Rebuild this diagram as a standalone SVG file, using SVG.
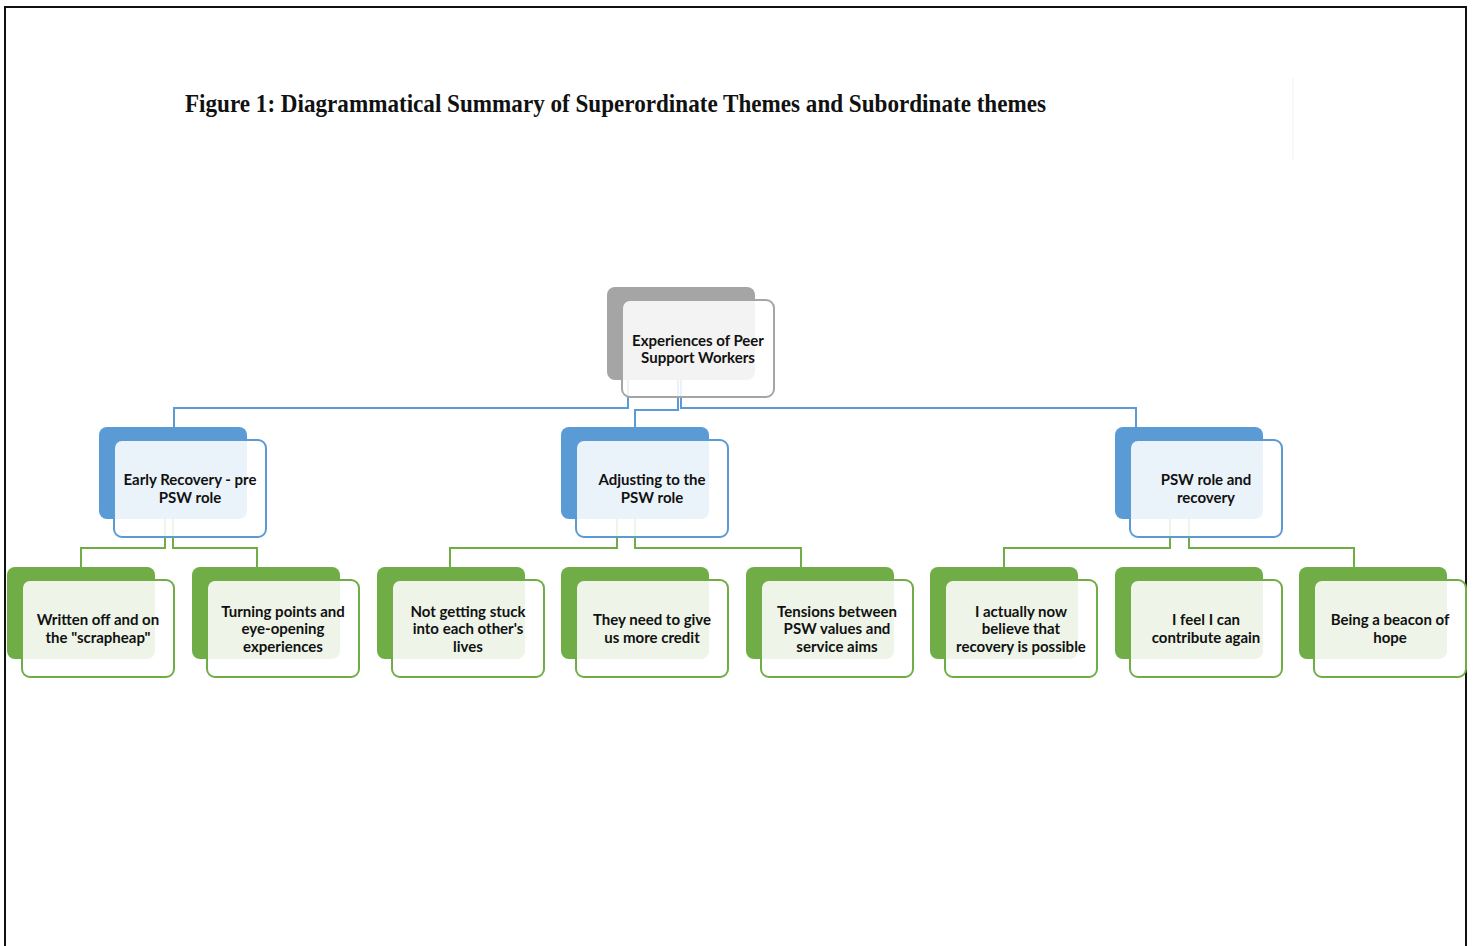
<svg xmlns="http://www.w3.org/2000/svg" width="1475" height="946" viewBox="0 0 1475 946">
<style>
.bg{fill:#ffffff}
.frame{fill:none;stroke:#111;stroke-width:2}
.title{font-family:"Liberation Serif",serif;font-weight:bold;font-size:25px;fill:#111}
.t{font-family:Lato,"Liberation Sans",sans-serif;font-weight:bold;font-size:15px;fill:#111;text-anchor:middle}
.gb{fill:#a5a5a5}
.gf{fill:#ffffff;fill-opacity:0.87;stroke:#a5a5a5;stroke-width:2}
.bb{fill:#5b9bd5}
.bf{fill:#ffffff;fill-opacity:0.88;stroke:#5b9bd5;stroke-width:2}
.nb{fill:#70ad47}
.nf{fill:#ffffff;fill-opacity:0.88;stroke:#70ad47;stroke-width:2}
.cb{fill:none;stroke:#5b9bd5;stroke-width:2}
.cg{fill:none;stroke:#70ad47;stroke-width:2}
</style>
<rect class="bg" x="0" y="0" width="1475" height="946"/>
<path class="frame" d="M5,946 V7 H1466 V946"/>
<line x1="1293" y1="78" x2="1293" y2="160" stroke="#f2f2f2" stroke-width="1"/>
<text class="title" x="185" y="112" textLength="861" lengthAdjust="spacingAndGlyphs">Figure 1: Diagrammatical Summary of Superordinate Themes and  Subordinate themes</text>

<g id="connectors">
<path class="cb" d="M628,380 V408 H174 V427"/>
<path class="cb" d="M678,380 V410 H635 V427"/>
<path class="cb" d="M681,380 V408 H1136 V427"/>
<path class="cg" d="M165,519 V548 H81 V567"/>
<path class="cg" d="M173,519 V548 H257 V567"/>
<path class="cg" d="M617,519 V548 H450 V567"/>
<path class="cg" d="M635,519 V548 H801 V567"/>
<path class="cg" d="M1170,519 V548 H1004 V567"/>
<path class="cg" d="M1189,519 V548 H1354 V567"/>
</g>

<g id="root">
<rect class="gb" x="607" y="287" width="148" height="93" rx="8"/>
<rect class="gf" x="622" y="300" width="152" height="97" rx="8"/>
<text class="t" x="698" y="346">Experiences of Peer</text>
<text class="t" x="698" y="363">Support Workers</text>
</g>

<g id="early-recovery">
<rect class="bb" x="99" y="427" width="148" height="92" rx="8"/>
<rect class="bf" x="114" y="440" width="152" height="97" rx="8"/>
<text class="t" x="190" y="485">Early Recovery - pre</text>
<text class="t" x="190" y="503">PSW role</text>
</g>

<g id="adjusting">
<rect class="bb" x="561" y="427" width="148" height="92" rx="8"/>
<rect class="bf" x="576" y="440" width="152" height="97" rx="8"/>
<text class="t" x="652" y="485">Adjusting to the</text>
<text class="t" x="652" y="503">PSW role</text>
</g>

<g id="psw-recovery">
<rect class="bb" x="1115" y="427" width="148" height="92" rx="8"/>
<rect class="bf" x="1130" y="440" width="152" height="97" rx="8"/>
<text class="t" x="1206" y="485">PSW role and</text>
<text class="t" x="1206" y="503">recovery</text>
</g>

<g id="written-off">
<rect class="nb" x="7" y="567" width="148" height="92" rx="8"/>
<rect class="nf" x="22" y="580" width="152" height="97" rx="8"/>
<text class="t" x="98" y="625">Written off and on</text>
<text class="t" x="98" y="643">the "scrapheap"</text>
</g>

<g id="turning-points">
<rect class="nb" x="192" y="567" width="148" height="92" rx="8"/>
<rect class="nf" x="207" y="580" width="152" height="97" rx="8"/>
<text class="t" x="283" y="617">Turning points and</text>
<text class="t" x="283" y="634">eye-opening</text>
<text class="t" x="283" y="652">experiences</text>
</g>

<g id="not-stuck">
<rect class="nb" x="377" y="567" width="148" height="92" rx="8"/>
<rect class="nf" x="392" y="580" width="152" height="97" rx="8"/>
<text class="t" x="468" y="617">Not getting stuck</text>
<text class="t" x="468" y="634">into each other's</text>
<text class="t" x="468" y="652">lives</text>
</g>

<g id="more-credit">
<rect class="nb" x="561" y="567" width="148" height="92" rx="8"/>
<rect class="nf" x="576" y="580" width="152" height="97" rx="8"/>
<text class="t" x="652" y="625">They need to give</text>
<text class="t" x="652" y="643">us more credit</text>
</g>

<g id="tensions">
<rect class="nb" x="746" y="567" width="148" height="92" rx="8"/>
<rect class="nf" x="761" y="580" width="152" height="97" rx="8"/>
<text class="t" x="837" y="617">Tensions between</text>
<text class="t" x="837" y="634">PSW values and</text>
<text class="t" x="837" y="652">service aims</text>
</g>

<g id="recovery-possible">
<rect class="nb" x="930" y="567" width="148" height="92" rx="8"/>
<rect class="nf" x="945" y="580" width="152" height="97" rx="8"/>
<text class="t" x="1021" y="617">I actually now</text>
<text class="t" x="1021" y="634">believe that</text>
<text class="t" x="1021" y="652">recovery is possible</text>
</g>

<g id="contribute">
<rect class="nb" x="1115" y="567" width="148" height="92" rx="8"/>
<rect class="nf" x="1130" y="580" width="152" height="97" rx="8"/>
<text class="t" x="1206" y="625">I feel I can</text>
<text class="t" x="1206" y="643">contribute again</text>
</g>

<g id="beacon">
<rect class="nb" x="1299" y="567" width="148" height="92" rx="8"/>
<rect class="nf" x="1314" y="580" width="152" height="97" rx="8"/>
<text class="t" x="1390" y="625">Being a beacon of</text>
<text class="t" x="1390" y="643">hope</text>
</g>
</svg>
